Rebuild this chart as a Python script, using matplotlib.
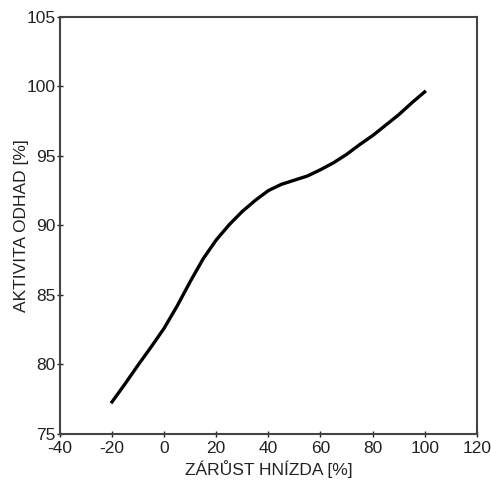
import matplotlib
matplotlib.use("Agg")
from matplotlib import pyplot as plt

plt.rcParams['font.family'] = ['Liberation Sans', 'DejaVu Sans']
plt.rcParams['axes.unicode_minus'] = False

# curve
zarust = [-20, -15, -10, -5, 0, 5, 10, 15, 20, 25, 30, 35, 40, 45, 50,
          55, 60, 65, 70, 75, 80, 85, 90, 95, 100]
aktivita = [77.3, 78.6, 79.95, 81.25, 82.6, 84.2, 85.95, 87.6, 88.95, 90.05,
            91.0, 91.8, 92.5, 92.95, 93.25, 93.55, 94.0, 94.5, 95.1, 95.8,
            96.45, 97.2, 97.95, 98.8, 99.6]
xticks = [-40, -20, 0, 20, 40, 60, 80, 100, 120]
yticks = [75, 80, 85, 90, 95, 100, 105]

fig = plt.figure(figsize=(4.91, 4.80), dpi=100)
ax = fig.add_axes([0.122, 0.096, 0.849, 0.869])
ax.plot(zarust, aktivita, color='black', lw=2.4, solid_joinstyle='round')

ax.set_xlim(-40, 120)
ax.set_ylim(75, 105)
ax.set_xticks(xticks)
ax.set_yticks(yticks)
ax.tick_params(direction='inout', length=4, width=1, labelsize=12.5,
               colors='#222222')
ax.tick_params(axis='x', pad=3)
ax.tick_params(axis='y', pad=1)
for s in ax.spines.values():
    s.set_linewidth(1.5)
    s.set_color('#444444')

ax.set_xlabel('ZÁRŮST HNÍZDA [%]', fontsize=12.5, labelpad=3, color='#222222')
ax.set_ylabel('AKTIVITA ODHAD [%]', fontsize=12.5, labelpad=-2, color='#222222')

fig.savefig('out.png', dpi=100)
